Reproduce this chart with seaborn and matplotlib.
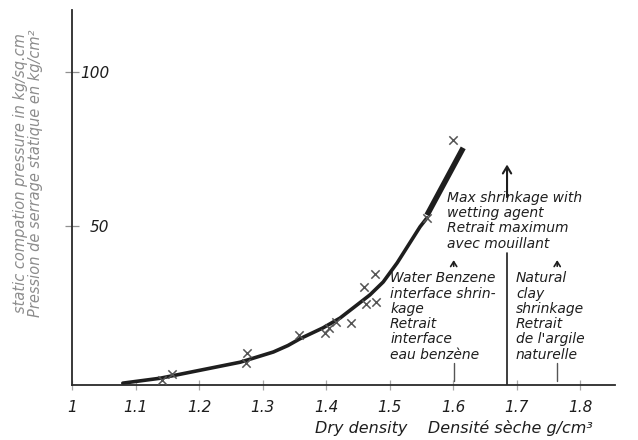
import matplotlib
matplotlib.use("Agg")
import matplotlib.pyplot as plt
import seaborn as sns
import pandas as pd

# measured points (crosses)
dens_pts = [1.141, 1.157, 1.275, 1.274, 1.358, 1.398, 1.405, 1.416, 1.439,
            1.459, 1.463, 1.478, 1.477, 1.559, 1.600]
pres_pts = [0.0, 1.9, 8.8, 5.5, 14.6, 15.3, 16.9, 18.8, 18.5,
            30.2, 24.7, 25.3, 34.4, 52.6, 77.9]

# fitted curve
curve_d = [1.080, 1.139, 1.202, 1.265, 1.317, 1.340, 1.359, 1.395, 1.422, 1.449,
           1.469, 1.490, 1.512, 1.532, 1.548, 1.559]
curve_p = [-1.0, 0.6, 3.2, 5.8, 9.1, 11.2, 13.4, 16.9, 20.1, 24.4,
           27.6, 31.8, 38.0, 44.5, 49.7, 52.6]

# steep extension
ext_d = [1.559, 1.616]
ext_p = [53.5, 75.3]

xticks = [1.0, 1.1, 1.2, 1.3, 1.4, 1.5, 1.6, 1.7, 1.8]
xtick_labels = ["1", "1.1", "1.2", "1.3", "1.4", "1.5", "1.6", "1.7", "1.8"]
yticks = [50, 100]

max_shrink_d = 1.685
water_benz_d = 1.601
natural_d = 1.764

sns.set_style("white")
plt.rcParams["font.family"] = ["DejaVu Sans"]
plt.rcParams["font.style"] = "italic"

fig = plt.figure(figsize=(6.38, 4.4), dpi=100)
ax = fig.add_axes([72 / 638, 55 / 440, 543 / 638, 375 / 440])

ink = "#1e1e1e"

sns.lineplot(x=curve_d, y=curve_p, sort=False, color=ink, lw=2.6, ax=ax,
             solid_joinstyle="round")
sns.lineplot(x=ext_d, y=ext_p, sort=False, color=ink, lw=4.0, ax=ax,
             solid_capstyle="butt")
pts = pd.DataFrame({"d": dens_pts, "p": pres_pts})
sns.scatterplot(data=pts, x="d", y="p", marker="x", s=36, color="#555555",
                linewidth=1.1, ax=ax, zorder=3)

ax.set_xlim(1.0, 1.855)
ax.set_ylim(-1.6, 120)

ax.set_xticks(xticks)
ax.set_xticklabels(xtick_labels)
ax.set_yticks(yticks)
ax.set_yticklabels([str(v) for v in yticks])

for side in ["top", "right"]:
    ax.spines[side].set_visible(False)
for side in ["left", "bottom"]:
    ax.spines[side].set_color("#2a2a2a")
    ax.spines[side].set_linewidth(1.3)

ax.tick_params(axis="x", bottom=True, direction="inout", length=7, width=0.9,
               color="#a8a8a8", labelsize=11, pad=7, labelcolor="#1e1e1e")
ax.tick_params(axis="y", left=True, direction="inout", length=10, width=0.9,
               color="#909090", labelsize=11, pad=-32, labelcolor="#1e1e1e")
for lbl in ax.get_xticklabels() + ax.get_yticklabels():
    lbl.set_fontstyle("italic")

ax.set_xlabel("")
ax.set_ylabel("")

# annotations
txt = dict(fontsize=10, fontstyle="italic", color=ink, va="top", ha="left",
           linespacing=1.12)
ax.text(1.5906, 61.4, "Max shrinkage with\nwetting agent\nRetrait maximum\navec mouillant", **txt)
ax.text(1.5008, 35.3, "Water Benzene\ninterface shrin-\nkage\nRetrait\ninterface\neau benzène", **txt)
ax.text(1.6990, 35.3, "Natural\nclay\nshrinkage\nRetrait\nde l'argile\nnaturelle", **txt)

ax.plot([max_shrink_d, max_shrink_d], [-1.6, 41.2], color=ink, lw=1.2)
arrow = dict(arrowstyle="->,head_length=0.5,head_width=0.3", color=ink, lw=1.5)
ax.annotate("", xy=(max_shrink_d, 70.8), xytext=(max_shrink_d, 58.4),
            arrowprops=arrow)
small = dict(arrowstyle="->,head_length=0.35,head_width=0.22", color=ink, lw=1.2)
ax.annotate("", xy=(water_benz_d, 39.8), xytext=(water_benz_d, 36.0),
            arrowprops=small)
ax.annotate("", xy=(natural_d, 39.8), xytext=(natural_d, 36.0),
            arrowprops=small)
ax.plot([water_benz_d, water_benz_d], [-0.3, 5.5], color="#555555", lw=1.0)
ax.plot([natural_d, natural_d], [-0.3, 5.5], color="#555555", lw=1.0)

fig.text(315 / 638, 1 - 428 / 440, "Dry density    Densité sèche g/cm³",
         fontsize=11.5, fontstyle="italic", ha="left", va="center", color=ink)
fig.text(28 / 638, 1 - 173 / 440,
         "static compation pressure in kg/sq.cm\nPression de serrage statique en kg/cm²",
         rotation=90, fontsize=10.5, fontstyle="italic", ha="center", va="center",
         color="#8c8c8c", linespacing=1.0)

fig.savefig("out.png", dpi=100)
